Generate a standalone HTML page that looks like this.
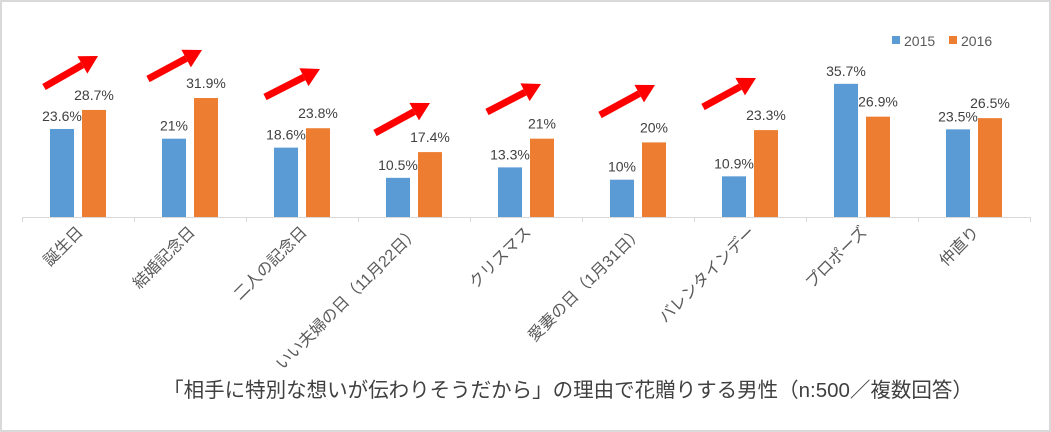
<!DOCTYPE html>
<html><head><meta charset="utf-8"><style>
body{margin:0;background:#fff;}
svg{display:block;font-family:"Liberation Sans","Noto Sans CJK JP",sans-serif;}
</style></head><body>
<svg id="c" width="1051" height="432">
<rect x="1" y="1" width="1049" height="430" fill="#fff" stroke="#d9d9d9" stroke-width="2"/>
<g id="plot"></g>
<g>
<rect x="892" y="36" width="8" height="8" fill="#5b9bd5"/>
<text x="904" y="46" font-size="14" fill="#595959">2015</text>
<rect x="949" y="36" width="8" height="8" fill="#ed7d31"/>
<text x="961" y="46" font-size="14" fill="#595959">2016</text>
</g>
<text x="568" y="397" text-anchor="middle" font-size="20.5" fill="#404040">「相手に特別な想いが伝わりそうだから」の理由で花贈りする男性（n:500／複数回答）</text>
</svg>
<script>
const categories=["誕生日","結婚記念日","二人の記念日","いい夫婦の日（11月22日）","クリスマス","愛妻の日（1月31日）","バレンタインデー","プロポーズ","仲直り"];
const values2015=[23.6,21,18.6,10.5,13.3,10,10.9,35.7,23.5];
const values2016=[28.7,31.9,23.8,17.4,21,20,23.3,26.9,26.5];
const labels2015=["23.6%","21%","18.6%","10.5%","13.3%","10%","10.9%","35.7%","23.5%"];
const labels2016=["28.7%","31.9%","23.8%","17.4%","21%","20%","23.3%","26.9%","26.5%"];
const arrowCats=[0,1,2,3,4,5,6];
const arrowOffsets=[[22,87,76,56],[14,79,68,50],[19,97,74,69],[17,133,72,103],[17,112,71,84],[18,115,73,85],[9,107,62,78]];
const NS="http://www.w3.org/2000/svg";
const g=document.getElementById('plot');
const x0=22,cw=112,base=217,k=3.73;
const xs=i=>x0+i*cw;
const ys=v=>base-v*k;
function mk(t,a){const e=document.createElementNS(NS,t);for(const n in a)e.setAttribute(n,a[n]);g.appendChild(e);return e;}
let ax=mk('line',{x1:x0,y1:base+0.5,x2:x0+9*cw,y2:base+0.5,stroke:'#d9d9d9','stroke-width':1});


for(let i=0;i<=9;i++){let t=mk('line',{x1:xs(i)+0.5,y1:base,x2:xs(i)+0.5,y2:base+5,stroke:'#d9d9d9'});

}
categories.forEach((c,i)=>{
 const cx=xs(i)+cw/2;
 let b=mk('rect',{x:cx-28,y:ys(values2015[i]),width:24,height:values2015[i]*k,fill:'#5b9bd5'});
 
 
 let o=mk('rect',{x:cx+4,y:ys(values2016[i]),width:24,height:values2016[i]*k,fill:'#ed7d31'});
 
 
 let l1=mk('text',{x:cx-16,y:ys(values2015[i])-8,'text-anchor':'middle','font-size':14,fill:'#404040'});l1.textContent=labels2015[i];
 
 
 let l2=mk('text',{x:cx+16,y:ys(values2016[i])-10,'text-anchor':'middle','font-size':14,fill:'#404040'});l2.textContent=labels2016[i];
 
 
 let cl=mk('text',{x:0,y:0,'text-anchor':'end','font-size':16,fill:'#595959',transform:`translate(${cx+6},${base+16}) rotate(-45)`});cl.textContent=c;
 
 
});
arrowCats.forEach((ci,j)=>{
 const [ax1,ay1,ax2,ay2]=arrowOffsets[j];const bx=xs(ci);
 const x1=bx+ax1,x2=bx+ax2,dx=x2-x1,dy=ay2-ay1,L=Math.hypot(dx,dy),ux=dx/L,uy=dy/L,px=-uy,py=ux;
 const hx=x2-ux*18,hy=ay2-uy*18;
 let s=mk('line',{x1:x1,y1:ay1,x2:hx,y2:hy,stroke:'#ff0000','stroke-width':7});
 
 
 let h=mk('polygon',{points:`${x2},${ay2} ${hx+px*10},${hy+py*10} ${hx-px*10},${hy-py*10}`,fill:'#ff0000'});
 
 
});
</script>
</body></html>
